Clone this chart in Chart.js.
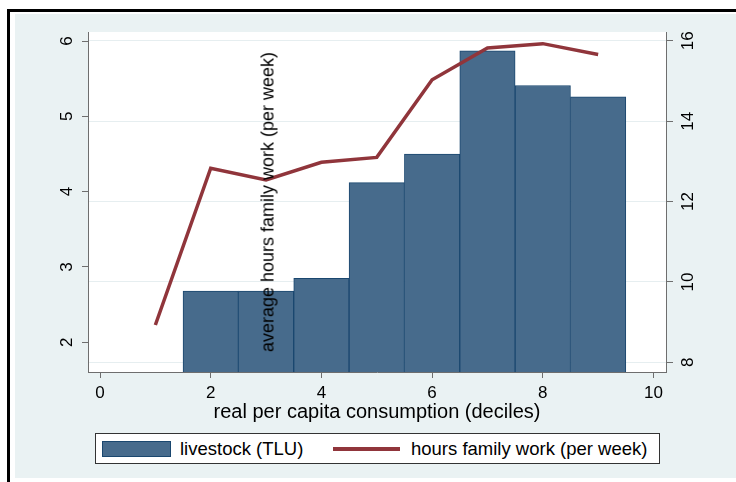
<!DOCTYPE html>
<html>
<head>
<meta charset="utf-8">
<script src="https://cdn.jsdelivr.net/npm/chart.js@4/dist/chart.umd.min.js"></script>
<style>
html,body{margin:0;padding:0;background:#fff;width:736px;height:482px;overflow:hidden;font-family:'Liberation Sans',Arial,sans-serif;}
#frame{position:absolute;left:7px;top:9px;width:760px;height:500px;border-left:3px solid #000;border-top:3px solid #000;}
#region{position:absolute;left:15px;top:14px;width:721px;height:464px;background:#eaf2f3;}
#wrap{position:absolute;left:0;top:0;width:736px;height:482px;}
#xtitle{position:absolute;left:377px;top:411px;transform:translate(-50%,-50%);white-space:nowrap;font-size:20px;color:#000;}
#ytitle{position:absolute;left:268px;top:202px;transform:translate(-50%,-50%) rotate(-90deg);white-space:nowrap;font-size:18px;color:#000;}
#legend{position:absolute;left:95px;top:433px;width:563px;height:29px;border:1px solid #333;background:#fff;font-size:18.5px;}
#legend .sw{position:absolute;left:6px;top:7px;width:67px;height:14px;background:#476b8c;border:1px solid #1a476f;}
#legend .t1{position:absolute;left:84px;top:4px;white-space:nowrap;}
#legend .ln{position:absolute;left:237px;top:13px;width:67px;height:4px;background:#90353b;}
#legend .t2{position:absolute;left:315px;top:4px;white-space:nowrap;}
</style>
</head>
<body>
<div id="frame"></div>
<div id="region"></div>
<div id="wrap"><canvas id="c" width="736" height="482"></canvas></div>
<div id="ytitle">average hours family work (per week)</div>
<div id="xtitle">real per capita consumption (deciles)</div>
<div id="legend">
  <div class="sw"></div><div class="t1">livestock (TLU)</div>
  <div class="ln"></div><div class="t2">hours family work (per week)</div>
</div>
<script>
const deciles = [1, 2, 3, 4, 5, 6, 7, 8, 9];
const livestockDeciles = [2, 3, 4, 5, 6, 7, 8, 9];
const livestockTLU = [2.68, 2.68, 2.85, 4.12, 4.50, 5.87, 5.41, 5.26];
const hoursFamilyWork = [8.93, 12.83, 12.54, 12.98, 13.10, 15.03, 15.82, 15.93, 15.66];
const xTickValues = [0, 2, 4, 6, 8, 10];
const leftTickValues = [2, 3, 4, 5, 6];
const rightTickValues = [8, 10, 12, 14, 16];

const tickFont = {family: "'Liberation Sans', Arial, sans-serif", size: 17};
const axisGray = '#6e6e6e';

const plotBg = {
  id: 'plotBg',
  beforeDraw(chart) {
    const a = chart.chartArea, ctx = chart.ctx;
    ctx.save();
    ctx.fillStyle = '#ffffff';
    ctx.fillRect(a.left, a.top, a.right - a.left, a.bottom - a.top);
    ctx.restore();
  }
};

const setTicks = vals => scale => { scale.ticks = vals.map(v => ({value: v})); };

new Chart(document.getElementById('c'), {
  type: 'bar',
  data: {
    datasets: [
      {
        type: 'line',
        label: 'hours family work (per week)',
        data: deciles.map((x, i) => ({x: x, y: hoursFamilyWork[i]})),
        yAxisID: 'y2',
        borderColor: '#90353b',
        borderWidth: 3.5,
        pointRadius: 0,
        tension: 0,
        order: 1
      },
      {
        type: 'bar',
        label: 'livestock (TLU)',
        data: livestockDeciles.map((x, i) => ({x: x, y: livestockTLU[i]})),
        yAxisID: 'y',
        backgroundColor: '#476b8c',
        borderColor: '#1a476f',
        borderWidth: 1,
        borderSkipped: false,
        categoryPercentage: 1,
        barPercentage: 1,
        order: 2
      }
    ]
  },
  options: {
    responsive: false,
    animation: false,
    layout: {padding: {top: 32, left: 0, right: 0, bottom: 0}},
    plugins: {legend: {display: false}, tooltip: {enabled: false}},
    scales: {
      x: {
        type: 'linear', position: 'bottom', min: -0.217, max: 10.226, offset: false,
        afterBuildTicks: setTicks(xTickValues),
        afterFit: s => { s.height = 110; },
        ticks: {font: tickFont, color: '#000', padding: 5, maxRotation: 0},
        grid: {offset: false, drawOnChartArea: false, tickLength: 6, tickColor: axisGray},
        border: {color: axisGray, width: 1}
      },
      y: {
        type: 'linear', position: 'left', min: 1.605, max: 6.12,
        afterBuildTicks: setTicks(leftTickValues),
        afterFit: s => { s.width = 88; },
        ticks: {font: tickFont, color: '#000', padding: 10, minRotation: 90, maxRotation: 90, crossAlign: 'center'},
        grid: {drawOnChartArea: false, tickLength: 6, tickColor: axisGray},
        border: {color: axisGray, width: 1}
      },
      y2: {
        type: 'linear', position: 'right', min: 7.76, max: 16.22,
        afterBuildTicks: setTicks(rightTickValues),
        afterFit: s => { s.width = 70; },
        ticks: {font: tickFont, color: '#000', padding: 6, minRotation: 90, maxRotation: 90, crossAlign: 'center'},
        grid: {drawOnChartArea: true, color: '#e6eef0', lineWidth: 1, tickLength: 7, tickColor: axisGray},
        border: {color: axisGray, width: 1}
      }
    }
  },
  plugins: [plotBg]
});
</script>
</body>
</html>
